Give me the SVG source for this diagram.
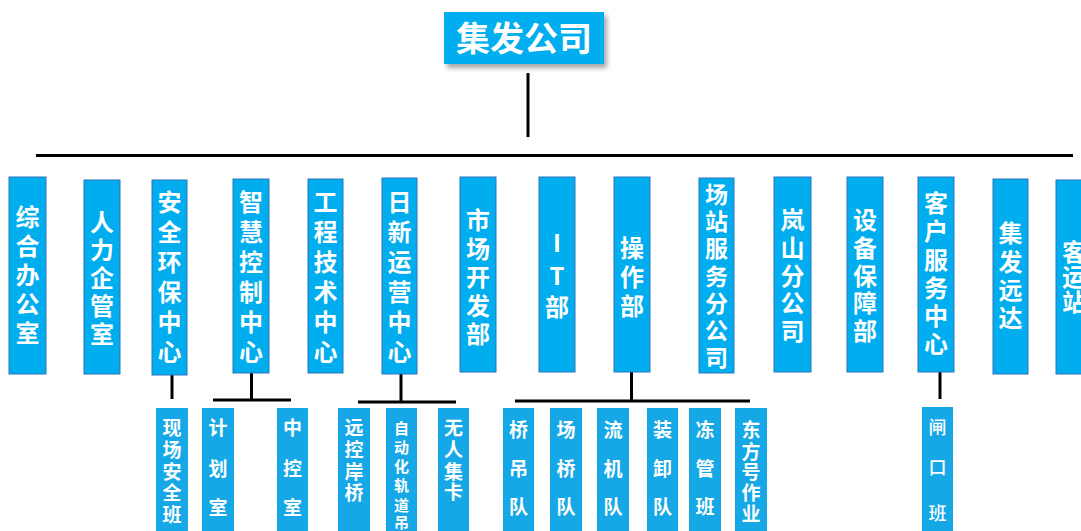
<svg xmlns="http://www.w3.org/2000/svg" width="1081" height="531" viewBox="0 0 1081 531">
<defs>
<filter id="sh" x="-10%" y="-20%" width="130%" height="150%">
<feGaussianBlur in="SourceAlpha" stdDeviation="2.5"/>
<feOffset dx="3" dy="4" result="b"/>
<feComponentTransfer><feFuncA type="linear" slope="0.35"/></feComponentTransfer>
<feMerge><feMergeNode/><feMergeNode in="SourceGraphic"/></feMerge>
</filter>
<style>
.m{fill:#00ADEF;stroke:#2F72B8;stroke-width:1}
.s{fill:#16A8E6}
.t{fill:#fff;font-family:"Noto Sans CJK SC","Noto Sans",sans-serif;font-weight:700;text-anchor:middle}
.mt{font-size:24px}
.st{font-size:19px}
.ln{stroke:#000;stroke-width:3;fill:none}
</style>
</defs>
<rect width="1081" height="531" fill="#fff"/>
<g id="connectors">
<line class="ln" x1="528" y1="73" x2="528" y2="137"/>
<line class="ln" x1="36" y1="155.5" x2="1073" y2="155.5"/>
<line class="ln" x1="172" y1="375" x2="172" y2="399"/>
<line class="ln" x1="251.5" y1="373" x2="251.5" y2="400"/>
<line class="ln" x1="213" y1="400" x2="291" y2="400"/>
<line class="ln" x1="401" y1="374" x2="401" y2="402"/>
<line class="ln" x1="358" y1="402" x2="456" y2="402"/>
<line class="ln" x1="631.5" y1="372" x2="631.5" y2="401"/>
<line class="ln" x1="515" y1="401" x2="750" y2="401"/>
<line class="ln" x1="940" y1="372" x2="940" y2="399"/>
</g>
<g id="root">
<rect x="444" y="12" width="160" height="52" fill="#00ADEF" filter="url(#sh)"/>
<text class="t" x="524" y="51" style="font-size:34px">集发公司</text>
</g>
<g id="n1"><rect class="m" x="9" y="177" width="37" height="197"/>
<text class="t mt" x="27.5"><tspan x="27.5" y="226">综</tspan><tspan x="27.5" y="255">合</tspan><tspan x="27.5" y="284">办</tspan><tspan x="27.5" y="313">公</tspan><tspan x="27.5" y="342">室</tspan></text></g>
<g id="n2"><rect class="m" x="84" y="180" width="36" height="194"/>
<text class="t mt"><tspan x="102" y="231">人</tspan><tspan x="102" y="259">力</tspan><tspan x="102" y="287">企</tspan><tspan x="102" y="315">管</tspan><tspan x="102" y="343">室</tspan></text></g>
<g id="n3"><rect class="m" x="152" y="180" width="35" height="195"/>
<text class="t mt"><tspan x="169.5" y="211">安</tspan><tspan x="169.5" y="241">全</tspan><tspan x="169.5" y="271">环</tspan><tspan x="169.5" y="301">保</tspan><tspan x="169.5" y="331">中</tspan><tspan x="169.5" y="361">心</tspan></text></g>
<g id="n4"><rect class="m" x="233" y="179" width="36" height="194"/>
<text class="t mt"><tspan x="251" y="211">智</tspan><tspan x="251" y="241">慧</tspan><tspan x="251" y="271">控</tspan><tspan x="251" y="301">制</tspan><tspan x="251" y="331">中</tspan><tspan x="251" y="361">心</tspan></text></g>
<g id="n5"><rect class="m" x="308" y="179" width="35" height="194"/>
<text class="t mt"><tspan x="325.5" y="211">工</tspan><tspan x="325.5" y="241">程</tspan><tspan x="325.5" y="271">技</tspan><tspan x="325.5" y="301">术</tspan><tspan x="325.5" y="331">中</tspan><tspan x="325.5" y="361">心</tspan></text></g>
<g id="n6"><rect class="m" x="382" y="178" width="35" height="196"/>
<text class="t mt"><tspan x="399.5" y="211">日</tspan><tspan x="399.5" y="241">新</tspan><tspan x="399.5" y="271">运</tspan><tspan x="399.5" y="301">营</tspan><tspan x="399.5" y="331">中</tspan><tspan x="399.5" y="361">心</tspan></text></g>
<g id="n7"><rect class="m" x="460" y="177" width="36" height="195"/>
<text class="t mt"><tspan x="478" y="229">市</tspan><tspan x="478" y="257.5">场</tspan><tspan x="478" y="286">开</tspan><tspan x="478" y="314.5">发</tspan><tspan x="478" y="343">部</tspan></text></g>
<g id="n8"><rect class="m" x="539" y="177" width="36" height="195"/>
<text class="t mt"><tspan x="557" y="252">I</tspan><tspan x="557" y="285">T</tspan><tspan x="557" y="316">部</tspan></text></g>
<g id="n9"><rect class="m" x="614" y="177" width="36" height="195"/>
<text class="t mt"><tspan x="632" y="257">操</tspan><tspan x="632" y="286">作</tspan><tspan x="632" y="315">部</tspan></text></g>
<g id="n10"><rect class="m" x="699" y="178" width="35" height="195"/>
<text class="t" style="font-size:23px"><tspan x="716.5" y="202.5">场</tspan><tspan x="716.5" y="229.5">站</tspan><tspan x="716.5" y="256.5">服</tspan><tspan x="716.5" y="284.5">务</tspan><tspan x="716.5" y="311.5">分</tspan><tspan x="716.5" y="338.5">公</tspan><tspan x="716.5" y="365.5">司</tspan></text></g>
<g id="n11"><rect class="m" x="774" y="177" width="37" height="195"/>
<text class="t mt"><tspan x="792.5" y="229">岚</tspan><tspan x="792.5" y="257">山</tspan><tspan x="792.5" y="285">分</tspan><tspan x="792.5" y="312">公</tspan><tspan x="792.5" y="340">司</tspan></text></g>
<g id="n12"><rect class="m" x="847" y="177" width="36" height="195"/>
<text class="t mt"><tspan x="865" y="229">设</tspan><tspan x="865" y="257">备</tspan><tspan x="865" y="285">保</tspan><tspan x="865" y="312">障</tspan><tspan x="865" y="340">部</tspan></text></g>
<g id="n13"><rect class="m" x="918" y="177" width="36" height="195"/>
<text class="t mt"><tspan x="936" y="212">客</tspan><tspan x="936" y="240">户</tspan><tspan x="936" y="269">服</tspan><tspan x="936" y="297">务</tspan><tspan x="936" y="325">中</tspan><tspan x="936" y="353">心</tspan></text></g>
<g id="n14"><rect class="m" x="993" y="179" width="35" height="195"/>
<text class="t mt"><tspan x="1010.5" y="242">集</tspan><tspan x="1010.5" y="271">发</tspan><tspan x="1010.5" y="299">远</tspan><tspan x="1010.5" y="327">达</tspan></text></g>
<g id="n15"><rect class="m" x="1056" y="180" width="36" height="194"/>
<text class="t mt"><tspan x="1074" y="261">客</tspan><tspan x="1074" y="286">运</tspan><tspan x="1074" y="311">站</tspan></text></g>
<g id="s1"><rect class="s" x="156" y="408" width="32" height="130"/>
<text class="t st"><tspan x="172" y="435">现</tspan><tspan x="172" y="457">场</tspan><tspan x="172" y="478.5">安</tspan><tspan x="172" y="500">全</tspan><tspan x="172" y="521.5">班</tspan></text></g>
<g id="s2"><rect class="s" x="202" y="408" width="32" height="130"/>
<text class="t st"><tspan x="218" y="435">计</tspan><tspan x="218" y="476">划</tspan><tspan x="218" y="515">室</tspan></text></g>
<g id="s3"><rect class="s" x="277" y="408" width="31" height="130"/>
<text class="t st"><tspan x="292.5" y="435">中</tspan><tspan x="292.5" y="476">控</tspan><tspan x="292.5" y="515">室</tspan></text></g>
<g id="s4"><rect class="s" x="338" y="408" width="32" height="130"/>
<text class="t st"><tspan x="354" y="435">远</tspan><tspan x="354" y="457">控</tspan><tspan x="354" y="479">岸</tspan><tspan x="354" y="500">桥</tspan></text></g>
<g id="s5"><rect class="s" x="386" y="408" width="31" height="130"/>
<text class="t" style="font-size:15px"><tspan x="401.5" y="433.5">自</tspan><tspan x="401.5" y="452.5">动</tspan><tspan x="401.5" y="472">化</tspan><tspan x="401.5" y="490.5">轨</tspan><tspan x="401.5" y="510.5">道</tspan><tspan x="401.5" y="527.5">吊</tspan></text></g>
<g id="s6"><rect class="s" x="438" y="408" width="31" height="130"/>
<text class="t st"><tspan x="453.5" y="435">无</tspan><tspan x="453.5" y="457">人</tspan><tspan x="453.5" y="479">集</tspan><tspan x="453.5" y="499">卡</tspan></text></g>
<g id="s7"><rect class="s" x="503" y="408" width="31" height="130"/>
<text class="t st"><tspan x="518.5" y="437">桥</tspan><tspan x="518.5" y="475.5">吊</tspan><tspan x="518.5" y="514">队</tspan></text></g>
<g id="s8"><rect class="s" x="550" y="408" width="32" height="130"/>
<text class="t st"><tspan x="566" y="437">场</tspan><tspan x="566" y="475.5">桥</tspan><tspan x="566" y="514">队</tspan></text></g>
<g id="s9"><rect class="s" x="597" y="408" width="32" height="130"/>
<text class="t st"><tspan x="613" y="437">流</tspan><tspan x="613" y="475.5">机</tspan><tspan x="613" y="514">队</tspan></text></g>
<g id="s10"><rect class="s" x="647" y="408" width="31" height="130"/>
<text class="t st"><tspan x="662.5" y="437">装</tspan><tspan x="662.5" y="475.5">卸</tspan><tspan x="662.5" y="514">队</tspan></text></g>
<g id="s11"><rect class="s" x="689" y="408" width="32" height="130"/>
<text class="t st"><tspan x="705" y="437">冻</tspan><tspan x="705" y="475.5">管</tspan><tspan x="705" y="514">班</tspan></text></g>
<g id="s12"><rect class="s" x="735" y="408" width="32" height="130"/>
<text class="t st"><tspan x="751" y="437">东</tspan><tspan x="751" y="458.5">方</tspan><tspan x="751" y="479">号</tspan><tspan x="751" y="500">作</tspan><tspan x="751" y="520.5">业</tspan></text></g>
<g id="s13"><rect class="s" x="922" y="407" width="31" height="130"/>
<text class="t" style="font-size:18px;font-weight:500"><tspan x="937.5" y="433.5">闸</tspan><tspan x="937.5" y="473.5">口</tspan><tspan x="937.5" y="519.5">班</tspan></text></g>
</svg>
